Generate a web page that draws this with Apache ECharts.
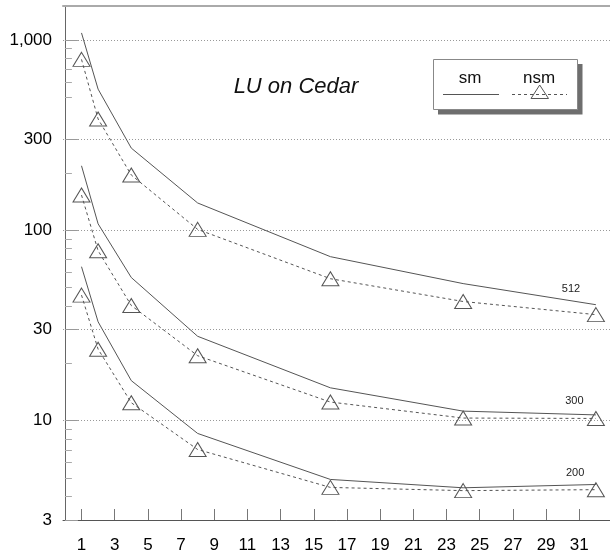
<!DOCTYPE html>
<html>
<head>
<meta charset="utf-8">
<title>LU on Cedar</title>
<script src="https://cdn.jsdelivr.net/npm/echarts@6/dist/echarts.min.js"></script>
<style>
  html, body { margin: 0; padding: 0; background: #fff; }
  #chart { width: 610px; height: 554px; }
</style>
</head>
<body>
<div id="chart"></div>
<script>
// Processor counts (x) and run times on a log scale (y)
const procs = [1, 2, 4, 8, 16, 24, 32];

// Matrix size 512
const sm512  = [1088, 551, 270, 139, 72.6, 52.4, 40.6];
const nsm512 = [790, 384, 195, 101, 55.6, 42.2, 36.0];
// Matrix size 300
const sm300  = [218, 108, 56.4, 27.7, 14.85, 11.2, 10.7];
const nsm300 = [153, 78, 40.2, 21.9, 12.5, 10.3, 10.25];
// Matrix size 200
const sm200  = [64.3, 33.0, 16.2, 8.55, 4.9, 4.43, 4.61];
const nsm200 = [45.6, 23.7, 12.4, 7.04, 4.45, 4.28, 4.33];

// Size tags placed beside the curves: [x, y, text]
const sizeTags = [[30.5, 49.3, '512'], [30.7, 12.6, '300'], [30.75, 5.32, '200']];

const xTicks = [1, 3, 5, 7, 9, 11, 13, 15, 17, 19, 21, 23, 25, 27, 29, 31];
const yTicks = [3, 10, 30, 100, 300, 1000];
const yMinorTicks = [4, 5, 6, 7, 8, 9, 20, 40, 50, 60, 70, 80, 90, 200, 500, 600, 700, 800, 900];

const pairs = ys => procs.map((x, i) => [x, ys[i]]);

const lineColor = '#555';
const fontFamily = '"Liberation Sans", Arial, Helvetica, sans-serif';

function smSeries(name, ys, tag) {
  return {
    name: name,
    type: 'line',
    data: pairs(ys),
    symbol: 'none',
    lineStyle: { color: lineColor, width: 1, type: 'solid' },
    markPoint: {
      symbol: 'circle',
      symbolSize: 0,
      silent: true,
      label: { show: true, position: 'inside', fontSize: 11, color: '#222', fontFamily: fontFamily,
               formatter: p => p.data.name },
      data: [{ coord: [tag[0], tag[1]], name: tag[2] }]
    }
  };
}

function nsmSeries(name, ys) {
  return {
    name: name,
    type: 'line',
    data: pairs(ys),
    symbol: 'triangle',
    symbolSize: [17, 14],
    showAllSymbol: true,
    itemStyle: { color: 'rgba(0,0,0,0)', borderColor: lineColor, borderWidth: 1 },
    lineStyle: { color: lineColor, width: 1, type: [3, 3] }
  };
}

const chart = echarts.init(document.getElementById('chart'), null, { renderer: 'canvas' });

const yBase = {
  type: 'log',
  logBase: 10,
  min: 3,
  max: 1507,
  position: 'left'
};

chart.setOption({
  animation: false,
  backgroundColor: '#fff',
  grid: { left: 63, right: 0, top: 6, bottom: 33, containLabel: false },
  xAxis: [{
    type: 'value',
    min: -0.115,
    max: 32.85,
    axisLine: { show: true, lineStyle: { color: '#555', width: 1 } },
    axisTick: { show: true, inside: true, length: 11, customValues: xTicks,
                lineStyle: { color: '#777', width: 1 } },
    axisLabel: { show: true, customValues: xTicks, margin: 17, fontSize: 17, color: '#000',
                 fontFamily: fontFamily },
    splitLine: { show: false }
  }, {
    // top frame line
    type: 'value',
    position: 'top',
    min: -0.115,
    max: 32.85,
    axisLine: { show: true, lineStyle: { color: '#aaa', width: 2 } },
    axisTick: { show: false },
    axisLabel: { show: false },
    splitLine: { show: false }
  }],
  yAxis: [Object.assign({}, yBase, {
    axisLine: { show: true, lineStyle: { color: '#666', width: 1 } },
    axisTick: { show: true, inside: true, length: 13, customValues: yTicks,
                lineStyle: { color: '#999', width: 1 } },
    axisLabel: { show: true, customValues: yTicks, margin: 11, fontSize: 17, color: '#000',
                 fontFamily: fontFamily,
                 formatter: v => Number(v).toLocaleString('en-US') },
    splitLine: { show: true, lineStyle: { color: '#999', width: 1, type: [1, 2] } }
  }), Object.assign({}, yBase, {
    // minor ticks at 2..9 multiples
    axisLine: { show: false },
    axisTick: { show: true, inside: true, length: 7, customValues: yMinorTicks,
                lineStyle: { color: '#aaa', width: 1 } },
    axisLabel: { show: false },
    splitLine: { show: false }
  })],
  series: [
    smSeries('sm 512', sm512, sizeTags[0]),
    nsmSeries('nsm 512', nsm512),
    smSeries('sm 300', sm300, sizeTags[1]),
    nsmSeries('nsm 300', nsm300),
    smSeries('sm 200', sm200, sizeTags[2]),
    nsmSeries('nsm 200', nsm200)
  ],
  graphic: [
    {
      type: 'text',
      x: 296, y: 87,
      style: { text: 'LU on Cedar', fontSize: 22, fontStyle: 'italic', fontFamily: fontFamily,
               fill: '#111', align: 'center', verticalAlign: 'middle' }
    },
    // legend box with drop shadow
    { type: 'rect', shape: { x: 438, y: 64, width: 144.5, height: 50.5 },
      style: { fill: '#6e6e6e' } },
    { type: 'rect', shape: { x: 433.5, y: 59.5, width: 144, height: 50 },
      style: { fill: '#fff', stroke: '#888', lineWidth: 1 } },
    { type: 'text', x: 470, y: 78,
      style: { text: 'sm', fontSize: 17, fontFamily: fontFamily, fill: '#111',
               align: 'center', verticalAlign: 'middle' } },
    { type: 'text', x: 539, y: 78,
      style: { text: 'nsm', fontSize: 17, fontFamily: fontFamily, fill: '#111',
               align: 'center', verticalAlign: 'middle' } },
    { type: 'line', shape: { x1: 443, y1: 94.5, x2: 499, y2: 94.5 },
      style: { stroke: lineColor, lineWidth: 1 } },
    { type: 'line', shape: { x1: 512, y1: 94.5, x2: 567, y2: 94.5 },
      style: { stroke: lineColor, lineWidth: 1, lineDash: [3, 3] } },
    { type: 'polygon', shape: { points: [[531, 98.5], [548.5, 98.5], [539.7, 85]] },
      style: { fill: 'rgba(0,0,0,0)', stroke: lineColor, lineWidth: 1 } }
  ]
});
</script>
</body>
</html>
